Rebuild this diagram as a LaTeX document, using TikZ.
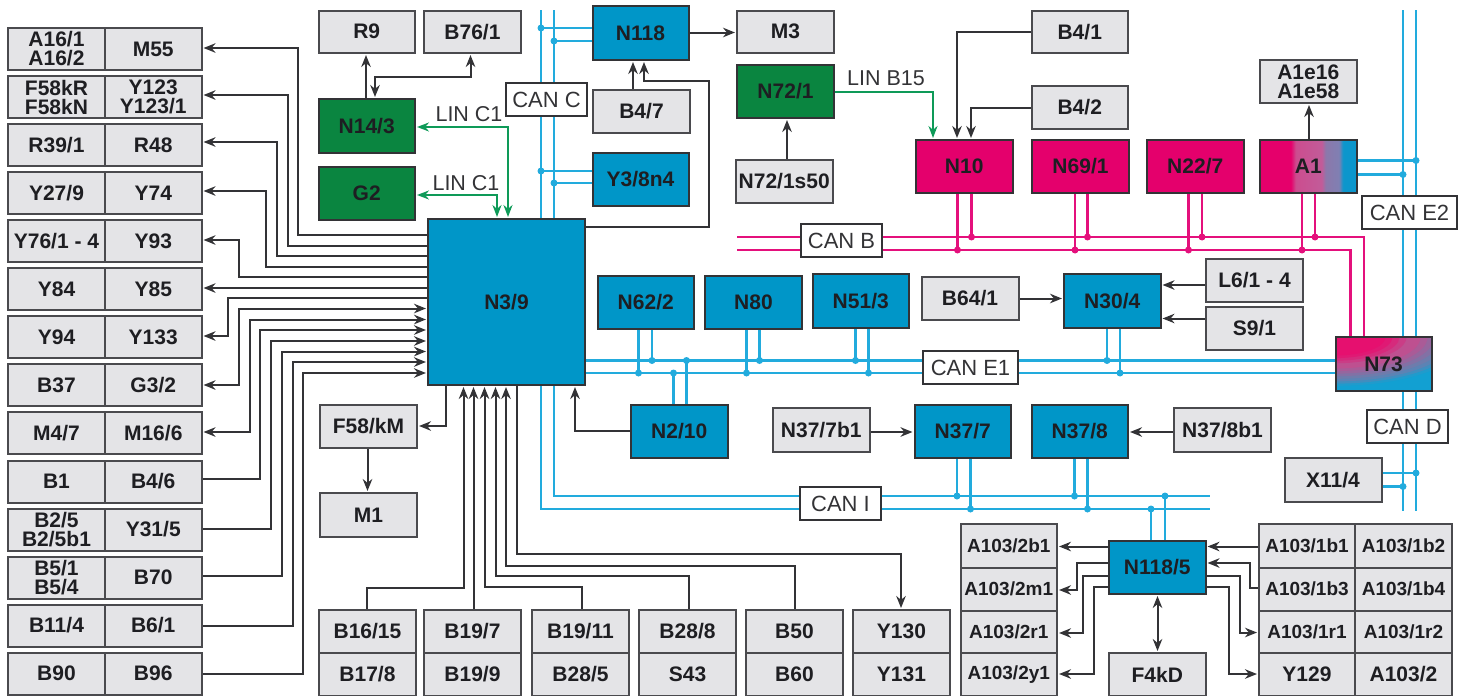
\documentclass[tikz,border=0pt]{standalone}
\usepackage{fontspec}
\setmainfont{Liberation Sans}
\usetikzlibrary{arrows.meta,backgrounds,calc}
\definecolor{boxgray}{HTML}{E4E4E7}
\definecolor{edge}{HTML}{4A4A4E}
\definecolor{wirec}{HTML}{333336}
\definecolor{ecublue}{HTML}{0096C8}
\definecolor{ecugreen}{HTML}{0A8540}
\definecolor{ecupink}{HTML}{E4006C}
\definecolor{canblue}{HTML}{22ABDD}
\definecolor{canpink}{HTML}{E4107C}
\definecolor{lingreen}{HTML}{0E9A58}
\definecolor{txt}{HTML}{1E1E22}
\definecolor{nsa}{HTML}{E6106F}
\definecolor{nsb}{HTML}{BE5090}
\definecolor{nsc}{HTML}{6E7CAC}
\definecolor{nsd}{HTML}{12A0D2}
\pgfdeclarehorizontalshading{aoneshade}{100bp}{
  rgb(0bp)=(0.90,0,0.42); rgb(41bp)=(0.90,0,0.42); rgb(43.5bp)=(0.80,0.30,0.56);
  rgb(57bp)=(0.76,0.36,0.60); rgb(59bp)=(0.55,0.47,0.67);
  rgb(66bp)=(0.50,0.50,0.70); rgb(68bp)=(0.05,0.59,0.80); rgb(100bp)=(0,0.59,0.80)}
\tikzset{
  basebox/.style={draw=edge,line width=2pt,inner sep=0pt,outer sep=0pt,align=center,text=txt,
    font=\fontsize{21}{19}\selectfont\bfseries},
  graybox/.style={basebox,fill=boxgray},
  smallgray/.style={graybox,font=\fontsize{19}{19}\selectfont\bfseries},
  bluebox/.style={basebox,fill=ecublue,draw=wirec},
  greenbox/.style={basebox,fill=ecugreen,draw=wirec},
  pinkbox/.style={basebox,fill=ecupink,draw=wirec},
  canlabel/.style={draw=wirec,fill=white,line width=2pt,inner sep=0pt,outer sep=0pt,text=wirec,
    font=\fontsize{22}{22}\selectfont},
  linlabel/.style={inner sep=0pt,text=wirec,font=\fontsize{21.5}{22}\selectfont},
  wire/.style={draw=wirec,line width=2pt,line join=miter},
  wend/.style={wire,-{Stealth[length=12pt,width=9.5pt]},shorten >=2pt},
  wboth/.style={wire,{Stealth[length=12pt,width=9.5pt]}-{Stealth[length=12pt,width=9.5pt]},shorten >=2pt,shorten <=2pt},
  lin/.style={draw=lingreen,line width=2pt,{Stealth[length=12pt,width=9pt]}-{Stealth[length=12pt,width=9pt]},shorten >=2pt,shorten <=2pt},
  linone/.style={draw=lingreen,line width=2pt,-{Stealth[length=12pt,width=9pt]},shorten >=2pt},
  canb/.style={draw=canblue,line width=2.9pt},
  canp/.style={draw=canpink,line width=2.9pt},
  nsevenfill/.style={path picture={
    \fill[nsd] (path picture bounding box.north west) rectangle (path picture bounding box.south east);
    \foreach \r/\c in {132/nsc!15!nsd,126/nsc!50!nsd,120/nsc!80!nsd,113/nsc,106/nsb!25!nsc,99/nsb!50!nsc,92/nsb!75!nsc,85/nsb,78/nsb,71/nsa!30!nsb,64/nsa!60!nsb,57/nsa!85!nsb,50/nsa}{
      \pgfmathsetmacro\ys{\r*0.37}
      \fill[\c] (path picture bounding box.north west) ellipse ({\r pt} and {\ys pt});
    }}}
}
\newcommand\bx[7]{%
  \pgfmathsetmacro\cxx{(#2+#4)/2}\pgfmathsetmacro\cyy{(#3+#5)/2}%
  \pgfmathsetmacro\wxx{#4-#2}\pgfmathsetmacro\hyy{#5-#3}%
  \node[#6,minimum width=\wxx pt,minimum height=\hyy pt] (#1) at (\cxx,\cyy) {#7};}
\newcommand\lrow[5]{%
  \pgfmathsetmacro\yend{#1+42}%
  \bx{#2}{8}{#1}{105}{\yend}{graybox}{#3}%
  \bx{#4}{105}{#1}{201.5}{\yend}{graybox}{#5}}
\newcommand\vtab[5]{%
  \bx{#2}{#1}{610}{\the\numexpr#1+97\relax}{653}{graybox}{#3}%
  \bx{#4}{#1}{653}{\the\numexpr#1+97\relax}{696}{graybox}{#5}}
\newcommand\jd[3]{\fill[#1] (#2,#3) circle (3.5pt);}
\begin{document}
\begin{tikzpicture}[x=1pt,y=-1pt]
\useasboundingbox (0,0) rectangle (1465,696);
% left table
\lrow{28}{Aa}{A16/1\\A16/2}{Ab}{M55}
\lrow{76}{Ba}{F58kR\\F58kN}{Bb}{Y123\\Y123/1}
\lrow{124}{Ca}{R39/1}{Cb}{R48}
\lrow{172}{Da}{Y27/9}{Db}{Y74}
\lrow{220}{Ea}{Y76/1 - 4}{Eb}{Y93}
\lrow{268}{Fa}{Y84}{Fb}{Y85}
\lrow{316}{Ga}{Y94}{Gb}{Y133}
\lrow{364}{Ha}{B37}{Hb}{G3/2}
\lrow{412}{Ia}{M4/7}{Ib}{M16/6}
\lrow{460.5}{Ja}{B1}{Jb}{B4/6}
\lrow{508.5}{Ka}{B2/5\\B2/5b1}{Kb}{Y31/5}
\lrow{556.5}{La}{B5/1\\B5/4}{Lb}{B70}
\lrow{604.5}{Ma}{B11/4}{Mb}{B6/1}
\lrow{652.5}{Na}{B90}{Nb}{B96}
% top left
\bx{Rnine}{318.5}{10.5}{415}{53}{graybox}{R9}
\bx{Bsevensix}{424}{10.5}{521}{53}{graybox}{B76/1}
\bx{Nfourteen}{318.5}{99}{415}{153}{greenbox}{N14/3}
\bx{Gtwo}{318.5}{167}{415}{220}{greenbox}{G2}
\bx{Nthree}{428}{219}{585}{385}{bluebox}{N3/9}
\bx{Nonetwoeight}{592.5}{6}{688.5}{60}{bluebox}{N118}
\bx{Mthree}{737}{10.5}{834}{53}{graybox}{M3}
\bx{Bfourseven}{593}{90}{690}{133}{graybox}{B4/7}
\bx{Ythree}{592.5}{153}{688.5}{206}{bluebox}{Y3/8n4}
\bx{Nsevtwo}{737}{65}{834}{118}{greenbox}{N72/1}
\bx{Nsevtwos}{735.5}{160}{833}{203}{graybox}{N72/1s50}
\bx{Bfourone}{1031.5}{10.5}{1128}{53}{graybox}{B4/1}
\bx{Bfourtwo}{1031.5}{86}{1128}{129}{graybox}{B4/2}
\bx{Nten}{916}{140}{1012.5}{193}{pinkbox}{N10}
\bx{Nsixnine}{1032}{140}{1129}{193}{pinkbox}{N69/1}
\bx{Ntwotwo}{1147}{140}{1243.5}{193}{pinkbox}{N22/7}
\bx{Aone}{1260}{140}{1356.5}{193}{basebox,draw=wirec,shade,shading=aoneshade}{A1}
\bx{Aonee}{1260}{60}{1356.5}{103}{graybox}{A1e16\\A1e58}
\bx{Nsixtwo}{597.5}{276}{694}{329}{bluebox}{N62/2}
\bx{Neighty}{705}{276}{802}{329}{bluebox}{N80}
\bx{Nfiveone}{812.5}{274}{909}{328}{bluebox}{N51/3}
\bx{Bsixfour}{921.5}{277}{1018.5}{320}{graybox}{B64/1}
\bx{Nthirty}{1064}{274}{1160.5}{328}{bluebox}{N30/4}
\bx{Lsix}{1206}{259}{1303}{302}{graybox}{L6/1 - 4}
\bx{Snine}{1206}{307}{1303}{350}{graybox}{S9/1}
\bx{Nsevthree}{1335.5}{337}{1431.5}{391}{basebox,draw=wirec,nsevenfill}{N73}
\bx{Ntwoten}{631}{405}{727.5}{458}{bluebox}{N2/10}
\bx{Fkm}{320}{405}{417}{448}{graybox}{F58/kM}
\bx{Mone}{320}{493}{417}{537}{graybox}{M1}
\bx{Nsevb}{772.5}{408}{870}{451.5}{graybox}{N37/7b1}
\bx{Nsevseven}{914.5}{405}{1011}{458}{bluebox}{N37/7}
\bx{Nseveight}{1031.5}{405}{1128}{458}{bluebox}{N37/8}
\bx{Neightb}{1174}{408}{1271}{451.5}{graybox}{N37/8b1}
\bx{Xel}{1284.5}{458}{1381.5}{501.5}{graybox}{X11/4}
\bx{Nfive}{1109}{541}{1205.5}{594}{bluebox}{N118/5}
\bx{Fkd}{1108.5}{653}{1206}{696}{graybox}{F4kD}
% bottom tables
\vtab{319}{Pa}{B16/15}{Pb}{B17/8}
\vtab{424}{Qa}{B19/7}{Qb}{B19/9}
\vtab{532}{Ra}{B19/11}{Rb}{B28/5}
\vtab{639}{Sa}{B28/8}{Sb}{S43}
\vtab{746}{Ta}{B50}{Tb}{B60}
\vtab{853}{Ua}{Y130}{Ub}{Y131}
% A103 tables
\bx{Wa}{960.5}{524}{1057}{567.5}{smallgray}{A103/2b1}
\bx{Wb}{960.5}{567.5}{1057}{610.5}{smallgray}{A103/2m1}
\bx{Wc}{960.5}{610.5}{1057}{653}{smallgray}{A103/2r1}
\bx{Wd}{960.5}{653}{1057}{696}{smallgray}{A103/2y1}
\bx{Va}{1259}{524}{1355}{567.5}{smallgray}{A103/1b1}
\bx{Vb}{1355}{524}{1452}{567.5}{smallgray}{A103/1b2}
\bx{Vc}{1259}{567.5}{1355}{610.5}{smallgray}{A103/1b3}
\bx{Vd}{1355}{567.5}{1452}{610.5}{smallgray}{A103/1b4}
\bx{Ve}{1259}{610.5}{1355}{653}{smallgray}{A103/1r1}
\bx{Vf}{1355}{610.5}{1452}{653}{smallgray}{A103/1r2}
\bx{Vg}{1259}{653}{1355}{696}{graybox}{Y129}
\bx{Vh}{1355}{653}{1452}{696}{graybox}{A103/2}
% bus labels
\bx{canC}{506}{83}{587}{116}{canlabel}{CAN C}
\bx{canB}{801}{224}{882}{257}{canlabel}{CAN B}
\bx{canEone}{923}{351}{1018}{384}{canlabel}{CAN E1}
\bx{canI}{800}{487}{881}{520}{canlabel}{CAN I}
\bx{canEtwo}{1362}{196}{1457}{229}{canlabel}{CAN E2}
\bx{canD}{1367}{410}{1448}{443}{canlabel}{CAN D}
\node[linlabel] (linA) at (469,114) {LIN C1};
\node[linlabel] (linB) at (466,183) {LIN C1};
\node[linlabel] (linC) at (886,78) {LIN B15};
% free ends
\coordinate (busCa) at (541,10);
\coordinate (busCb) at (554,10);
\coordinate (busIa) at (1210,509);
\coordinate (busIb) at (1210,496);
\coordinate (busBa) at (737,237);
\coordinate (busBb) at (737,250);
\coordinate (busEa) at (1403,10);
\coordinate (busEb) at (1416,10);
\coordinate (busDa) at (1403,511);
\coordinate (busDb) at (1416,511);
\begin{pgfonlayer}{background}
% left wires: outputs
\draw[wend] (Nthree.west |- 0,235) -- (298,235) -- (298,48) -- (Ab.east |- 0,48);
\draw[wend] (Nthree.west |- 0,245.5) -- (287.5,245.5) -- (287.5,95) -- (Bb.east |- 0,95);
\draw[wend] (Nthree.west |- 0,256) -- (276.5,256) -- (276.5,142) -- (Cb.east |- 0,142);
\draw[wend] (Nthree.west |- 0,267) -- (266,267) -- (266,191) -- (Db.east |- 0,191);
\draw[wend] (Nthree.west |- 0,277) -- (239,277) -- (239,240) -- (Eb.east |- 0,240);
\draw[wend] (Nthree.west |- 0,288) -- (Fb.east |- 0,288);
\draw[wend] (Nthree.west |- 0,298) -- (228,298) -- (228,336) -- (Gb.east |- 0,336);
\draw[wboth] (Hb.east |- 0,385) -- (239,385) -- (239,308.5) -- (Nthree.west |- 0,308.5);
\draw[wboth] (Ib.east |- 0,432) -- (249.5,432) -- (249.5,319.5) -- (Nthree.west |- 0,319.5);
\draw[wend] (Jb.east |- 0,479) -- (260,479) -- (260,330) -- (Nthree.west |- 0,330);
\draw[wend] (Kb.east |- 0,528.5) -- (270.5,528.5) -- (270.5,341) -- (Nthree.west |- 0,341);
\draw[wend] (Lb.east |- 0,576) -- (282,576) -- (282,351.5) -- (Nthree.west |- 0,351.5);
\draw[wend] (Mb.east |- 0,625.5) -- (292.5,625.5) -- (292.5,362) -- (Nthree.west |- 0,362);
\draw[wend] (Nb.east |- 0,674) -- (303,674) -- (303,373) -- (Nthree.west |- 0,373);
% top-left wires
\draw[wend] (366,0 |- Nfourteen.north) -- (366,0 |- Rnine.south);
\draw[wboth] (375,0 |- Nfourteen.north) -- (375,77) -- (470.5,77) -- (470.5,0 |- Bsevensix.south);
\draw[lin] (Nfourteen.east |- 0,127) -- (508,127) -- (508,0 |- Nthree.north);
\draw[lin] (Gtwo.east |- 0,195) -- (497,195) -- (497,0 |- Nthree.north);
\draw[wend] (Nonetwoeight.east |- 0,32.5) -- (Mthree.west |- 0,32.5);
\draw[wend] (633,0 |- Bfourseven.north) -- (633,0 |- Nonetwoeight.south);
\draw[wend] (Nthree.east |- 0,226.5) -- (708.5,226.5) -- (708.5,80.5) -- (644,80.5) -- (644,0 |- Nonetwoeight.south);
\draw[wend] (787,0 |- Nsevtwos.north) -- (787,0 |- Nsevtwo.south);
\draw[linone] (Nsevtwo.east |- 0,92) -- (933,92) -- (933,0 |- Nten.north);
\draw[wend] (Bfourone.west) -- (957,0 |- Bfourone.west) -- (957,0 |- Nten.north);
\draw[wend] (Bfourtwo.west) -- (971,0 |- Bfourtwo.west) -- (971,0 |- Nten.north);
\draw[wend] (1309,0 |- Aone.north) -- (1309,0 |- Aonee.south);
\draw[wend] (Bsixfour.east) -- (Nthirty.west |- Bsixfour.east);
\draw[wend] (Lsix.west |- 0,285) -- (Nthirty.east |- 0,285);
\draw[wend] (Snine.west |- 0,318.5) -- (Nthirty.east |- 0,318.5);
\draw[wend] (Ntwoten.west |- 0,431) -- (575,431) -- (575,0 |- Nthree.south);
\draw[wend] (Nsevb.east |- 0,432) -- (Nsevseven.west |- 0,432);
\draw[wend] (Neightb.west |- 0,432) -- (Nseveight.east |- 0,432);
% below N3/9
\draw[wend] (446,0 |- Nthree.south) -- (446,426) -- (Fkm.east |- 0,426);
\draw[wend] (367.5,0 |- Fkm.south) -- (367.5,0 |- Mone.north);
\draw[wend] (367,0 |- Pa.north) -- (367,587.5) -- (463.5,587.5) -- (463.5,0 |- Nthree.south);
\draw[wend] (473.5,0 |- Qa.north) -- (473.5,0 |- Nthree.south);
\draw[wend] (581.5,0 |- Ra.north) -- (581.5,587) -- (484.5,587) -- (484.5,0 |- Nthree.south);
\draw[wend] (688.5,0 |- Sa.north) -- (688.5,576) -- (495.5,576) -- (495.5,0 |- Nthree.south);
\draw[wend] (795,0 |- Ta.north) -- (795,565.5) -- (506,565.5) -- (506,0 |- Nthree.south);
\draw[wend] (516.5,0 |- Nthree.south) -- (516.5,553.5) -- (901,553.5) -- (901,0 |- Ua.north);
% N118/5 wires
\draw[wend] (Nfive.west |- 0,546.5) -- (Wa.east |- 0,546.5);
\draw[wend] (Nfive.west |- 0,563) -- (1076.5,563) -- (1076.5,590) -- (Wb.east |- 0,590);
\draw[wend] (Nfive.west |- 0,576) -- (1082.5,576) -- (1082.5,633) -- (Wc.east |- 0,633);
\draw[wend] (Nfive.west |- 0,587) -- (1093.5,587) -- (1093.5,674) -- (Wd.east |- 0,674);
\draw[wend] (Va.west |- 0,546.5) -- (Nfive.east |- 0,546.5);
\draw[wend] (Vc.west |- 0,588) -- (1249.5,588) -- (1249.5,563) -- (Nfive.east |- 0,563);
\draw[wend] (Nfive.east |- 0,576) -- (1239.5,576) -- (1239.5,632.5) -- (Ve.west |- 0,632.5);
\draw[wend] (Nfive.east |- 0,587) -- (1228.5,587) -- (1228.5,674) -- (Vg.west |- 0,674);
\draw[wboth] (1157.5,0 |- Nfive.south) -- (1157.5,0 |- Fkd.north);
% CAN C / I bus
\draw[canb] (busCa) -- (busCa |- Nthree.north);
\draw[canb] (busCb) -- (busCb |- Nthree.north);
\draw[canb] (busCa |- Nthree.south) -- (541,509) -- (busIa);
\draw[canb] (busCb |- Nthree.south) -- (554,496) -- (busIb);
\draw[canb] (541,28) -- (Nonetwoeight.west |- 0,28);
\draw[canb] (554,41) -- (Nonetwoeight.west |- 0,41);
\draw[canb] (541,171) -- (Ythree.west |- 0,171);
\draw[canb] (554,183) -- (Ythree.west |- 0,183);
\jd{canblue}{541}{28}\jd{canblue}{554}{41}\jd{canblue}{541}{171}\jd{canblue}{554}{183}
\draw[canb] (957,0 |- Nsevseven.south) -- (957,496); \jd{canblue}{957}{496}
\draw[canb] (970.5,0 |- Nsevseven.south) -- (970.5,509); \jd{canblue}{970.5}{509}
\draw[canb] (1074.5,0 |- Nseveight.south) -- (1074.5,496); \jd{canblue}{1074.5}{496}
\draw[canb] (1087.5,0 |- Nseveight.south) -- (1087.5,509); \jd{canblue}{1087.5}{509}
\draw[canb] (1151,0 |- Nfive.north) -- (1151,509); \jd{canblue}{1151}{509}
\draw[canb] (1165,0 |- Nfive.north) -- (1165,496); \jd{canblue}{1165}{496}
% CAN E1 bus
\draw[canb] (Nthree.east |- 0,360.5) -- (Nsevthree.west |- 0,360.5);
\draw[canb] (Nthree.east |- 0,373) -- (Nsevthree.west |- 0,373);
\draw[canb] (638.5,0 |- Nsixtwo.south) -- (638.5,373); \jd{canblue}{638.5}{373}
\draw[canb] (652,0 |- Nsixtwo.south) -- (652,360.5); \jd{canblue}{652}{360.5}
\draw[canb] (746.5,0 |- Neighty.south) -- (746.5,373); \jd{canblue}{746.5}{373}
\draw[canb] (759.5,0 |- Neighty.south) -- (759.5,360.5); \jd{canblue}{759.5}{360.5}
\draw[canb] (855.5,0 |- Nfiveone.south) -- (855.5,360.5); \jd{canblue}{855.5}{360.5}
\draw[canb] (868.5,0 |- Nfiveone.south) -- (868.5,373); \jd{canblue}{868.5}{373}
\draw[canb] (673.5,0 |- Ntwoten.north) -- (673.5,373); \jd{canblue}{673.5}{373}
\draw[canb] (686.5,0 |- Ntwoten.north) -- (686.5,360.5); \jd{canblue}{686.5}{360.5}
\draw[canb] (1107,0 |- Nthirty.south) -- (1107,360.5); \jd{canblue}{1107}{360.5}
\draw[canb] (1120,0 |- Nthirty.south) -- (1120,373); \jd{canblue}{1120}{373}
% CAN E2 / D
\draw[canb] (busEa) -- (busEa |- Nsevthree.north);
\draw[canb] (busEb) -- (busEb |- Nsevthree.north);
\draw[canb] (Aone.east |- 0,160.5) -- (1416,160.5); \jd{canblue}{1416}{160.5}
\draw[canb] (Aone.east |- 0,174.5) -- (1403,174.5); \jd{canblue}{1403}{174.5}
\draw[canb] (busDa |- Nsevthree.south) -- (busDa);
\draw[canb] (busDb |- Nsevthree.south) -- (busDb);
\draw[canb] (Xel.east |- 0,473) -- (1416,473); \jd{canblue}{1416}{473}
\draw[canb] (Xel.east |- 0,486.5) -- (1403,486.5); \jd{canblue}{1403}{486.5}
% CAN B
\draw[canp] (busBa) -- (1364,237) -- (1364,0 |- Nsevthree.north);
\draw[canp] (busBb) -- (1350.5,250) -- (1350.5,0 |- Nsevthree.north);
\draw[canp] (957.5,0 |- Nten.south) -- (957.5,250); \jd{canpink}{957.5}{250}
\draw[canp] (971.5,0 |- Nten.south) -- (971.5,237); \jd{canpink}{971.5}{237}
\draw[canp] (1075,0 |- Nsixnine.south) -- (1075,250); \jd{canpink}{1075}{250}
\draw[canp] (1087.5,0 |- Nsixnine.south) -- (1087.5,237); \jd{canpink}{1087.5}{237}
\draw[canp] (1188.5,0 |- Ntwotwo.south) -- (1188.5,250); \jd{canpink}{1188.5}{250}
\draw[canp] (1202,0 |- Ntwotwo.south) -- (1202,237); \jd{canpink}{1202}{237}
\draw[canp] (1302,0 |- Aone.south) -- (1302,250); \jd{canpink}{1302}{250}
\draw[canp] (1315,0 |- Aone.south) -- (1315,237); \jd{canpink}{1315}{237}
\end{pgfonlayer}
\end{tikzpicture}
\end{document}
